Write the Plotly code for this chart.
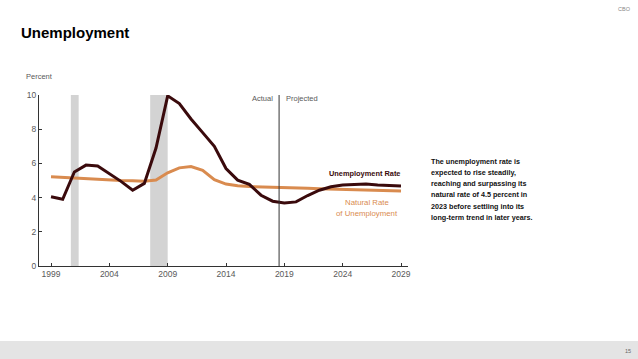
import plotly.graph_objects as go

years = list(range(1999, 2030))
unemployment_rate = [4.05, 3.9, 5.5, 5.9, 5.85, 5.4, 4.95, 4.43, 4.83, 6.9, 9.95,
                     9.5, 8.6, 7.8, 7.0, 5.7, 5.02, 4.77, 4.14, 3.79, 3.69, 3.75,
                     4.12, 4.43, 4.63, 4.73, 4.76, 4.79, 4.74, 4.7, 4.68]
natural_rate = [5.22, 5.18, 5.13, 5.09, 5.06, 5.03, 5.0, 4.98, 4.95, 5.03, 5.45,
                5.74, 5.82, 5.6, 5.05, 4.79, 4.69, 4.65, 4.62, 4.6, 4.58, 4.56,
                4.54, 4.52, 4.5, 4.48, 4.46, 4.44, 4.42, 4.4, 4.38]
recessions = [(2000.7, 2001.37), (2007.5, 2009.0)]
split_year = 2018.55
tick_years = [1999, 2004, 2009, 2014, 2019, 2024, 2029]
y_ticks = [0, 2, 4, 6, 8, 10]
note_lines = ["The unemployment rate is", "expected to rise steadily,",
              "reaching and surpassing its", "natural rate of 4.5 percent in",
              "2023 before settling into its", "long-term trend in later years."]
natural_label_lines = ["Natural Rate", "of Unemployment"]

DARK = "#3a0a0c"
ORANGE = "#d98b4f"
GRAY = "#595959"
FONT = "Liberation Sans, Arial, sans-serif"

W, H = 638, 359
ml, mr, mt, mb = 39, 230, 95, 93
pw, ph = W - ml - mr, H - mt - mb


def px(x):
    return (x - ml) / pw


def py(y):
    return (H - mb - y) / ph


fig = go.Figure()
for x0, x1 in recessions:
    fig.add_shape(type="rect", xref="x", yref="y", x0=x0, x1=x1, y0=0, y1=10,
                  fillcolor="#d3d3d3", line_width=0, layer="below")
fig.add_shape(type="line", xref="x", yref="y", x0=split_year, x1=split_year, y0=0, y1=10,
              line=dict(color="#333333", width=1))
fig.add_shape(type="rect", xref="paper", yref="paper", x0=px(-2), x1=px(W + 2),
              y0=py(341), y1=py(H + 2), fillcolor="#e4e4e4", line_width=0, layer="below")

fig.add_trace(go.Scatter(x=years, y=natural_rate, mode="lines",
                         line=dict(color=ORANGE, width=3), hoverinfo="skip"))
fig.add_trace(go.Scatter(x=years, y=unemployment_rate, mode="lines",
                         line=dict(color=DARK, width=3), hoverinfo="skip"))

fig.add_annotation(text="Actual", x=split_year, y=10, xref="x", yref="y", xanchor="right",
                   yanchor="middle", xshift=-4, yshift=-3, showarrow=False,
                   font=dict(size=7.5, color=GRAY, family=FONT))
fig.add_annotation(text="Projected", x=split_year, y=10, xref="x", yref="y", xanchor="left",
                   yanchor="middle", xshift=5, yshift=-3, showarrow=False,
                   font=dict(size=7.5, color=GRAY, family=FONT))
fig.add_annotation(text="<b>Unemployment Rate</b>", x=px(402), y=py(173), xref="paper",
                   yref="paper", xanchor="right", yanchor="middle", showarrow=False,
                   font=dict(size=7.4, color=DARK, family=FONT))
for i, line in enumerate(natural_label_lines):
    fig.add_annotation(text=line, x=px(367), y=py(202 + 11 * i), xref="paper", yref="paper",
                       xanchor="center", yanchor="middle", showarrow=False,
                       font=dict(size=7.8, color=ORANGE, family=FONT))
fig.add_annotation(text="Percent", x=px(24), y=py(77), xref="paper", yref="paper",
                   xanchor="left", yanchor="middle", showarrow=False,
                   font=dict(size=7.5, color=GRAY, family=FONT))
fig.add_annotation(text="<b>Unemployment</b>", x=px(19), y=py(33), xref="paper", yref="paper",
                   xanchor="left", yanchor="middle", showarrow=False,
                   font=dict(size=15, color="#000000", family=FONT))
fig.add_annotation(text="CBO", x=px(633), y=py(9), xref="paper", yref="paper",
                   xanchor="right", yanchor="middle", showarrow=False,
                   font=dict(size=5.5, color="#888888", family=FONT))
fig.add_annotation(text="15", x=px(633), y=py(351), xref="paper", yref="paper",
                   xanchor="right", yanchor="middle", showarrow=False,
                   font=dict(size=5.5, color="#666666", family=FONT))
for i, line in enumerate(note_lines):
    fig.add_annotation(text="<b>" + line + "</b>", x=px(429), y=py(161 + 11.3 * i),
                       xref="paper", yref="paper", xanchor="left", yanchor="middle",
                       showarrow=False, font=dict(size=7.2, color="#111111", family=FONT))

fig.update_layout(
    width=W, height=H, margin=dict(l=ml, r=mr, t=mt, b=mb),
    paper_bgcolor="white", plot_bgcolor="white", showlegend=False,
    font=dict(family=FONT),
    xaxis=dict(range=[1997.97, 2029.6], tickvals=tick_years, ticks="inside", ticklen=3,
               tickcolor="#333333", showline=True, linecolor="#333333", linewidth=1,
               showgrid=False, zeroline=False, tickfont=dict(size=8.5, color=GRAY)),
    yaxis=dict(range=[0, 10], tickvals=y_ticks, ticks="inside", ticklen=3,
               tickcolor="#333333", showline=True, linecolor="#333333", linewidth=1,
               showgrid=False, zeroline=False, tickfont=dict(size=8.5, color=GRAY)),
)
fig.write_html("out.html", config={"displayModeBar": False},
               post_script="document.body.style.margin='0px';")
